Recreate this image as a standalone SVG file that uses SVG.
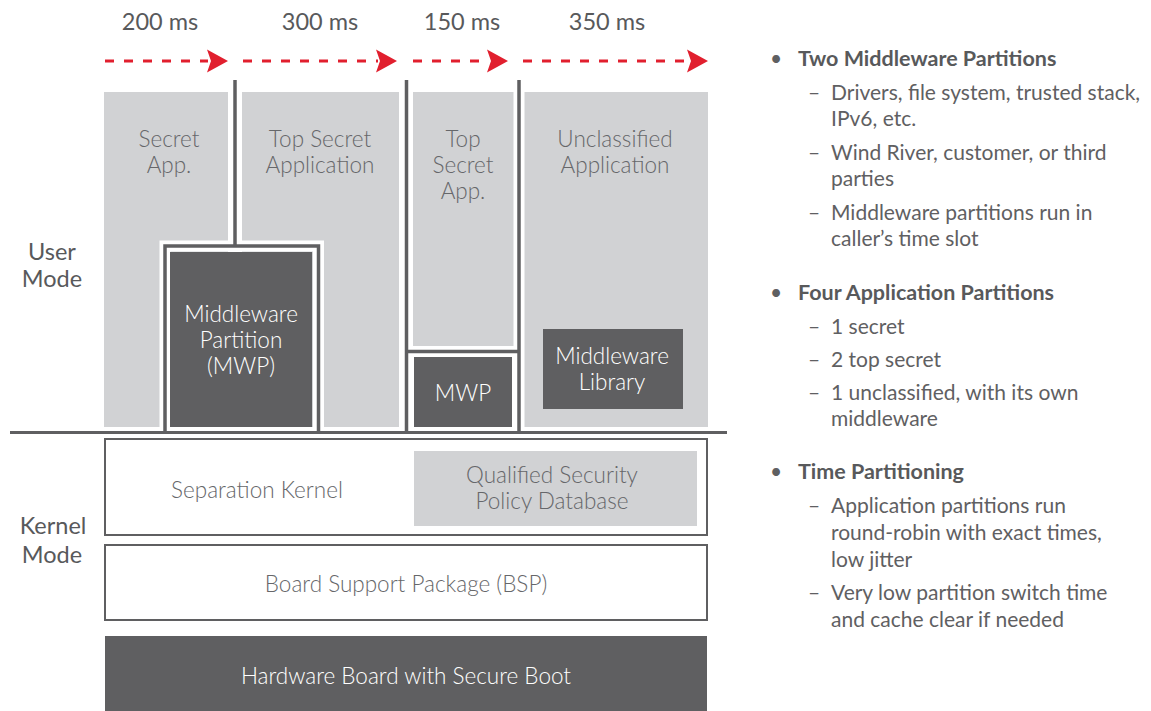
<svg xmlns="http://www.w3.org/2000/svg" width="1151" height="711" viewBox="0 0 1151 711">
<defs>
<style>
.t{font-family:Lato,"Noto Sans","Liberation Sans",sans-serif;font-weight:300;font-size:22.5px;fill:#66676a;text-anchor:middle}
.lbl{font-weight:400;font-size:23.5px;fill:#58595b}
.w{fill:#ffffff}
.g{fill:#d1d2d4}
.d{fill:#5f5f61}
.halo{fill:none;stroke:#ffffff;stroke-width:11}
.rule{fill:none;stroke:#5f5f61;stroke-width:3.5}
.box{fill:#ffffff;stroke:#5f5f61;stroke-width:2}
.dash{fill:none;stroke:#e11f2e;stroke-width:3;stroke-dasharray:9 10}
.ah{fill:#e11f2e}
.r{font-family:Lato,"Noto Sans","Liberation Sans",sans-serif;font-size:21px;fill:#5f6062}
.h{font-weight:700;font-size:21.5px;fill:#58595b}
.b{font-weight:400}
</style>
</defs>
<rect width="1151" height="711" fill="#ffffff"/>

<g id="timeline">
<text class="t lbl" x="160" y="30">200 ms</text>
<text class="t lbl" x="320" y="30">300 ms</text>
<text class="t lbl" x="462" y="30">150 ms</text>
<text class="t lbl" x="607" y="30">350 ms</text>
<line class="dash" x1="105" y1="61" x2="208" y2="61"/>
<polygon class="ah" points="207,49.5 228,61 207,72.5 211,61"/>
<line class="dash" x1="243" y1="61" x2="378" y2="61"/>
<polygon class="ah" points="376,49.5 397,61 376,72.5 380,61"/>
<line class="dash" x1="413" y1="61" x2="489" y2="61"/>
<polygon class="ah" points="487,49.5 508,61 487,72.5 491,61"/>
<line class="dash" x1="523" y1="61" x2="689" y2="61"/>
<polygon class="ah" points="687,49.5 708,61 687,72.5 691,61"/>
</g>

<g id="mode-labels">
<text class="t lbl" x="52" y="260">User</text>
<text class="t lbl" x="52" y="287">Mode</text>
<text class="t lbl" x="53" y="534">Kernel</text>
<text class="t lbl" x="52" y="563">Mode</text>
</g>

<g id="secret-app">
<rect class="g" x="104" y="92" width="124" height="335"/>
<text class="t" x="169" y="147">Secret</text>
<text class="t" x="169" y="173">App.</text>
</g>
<g id="top-secret-application">
<rect class="g" x="242" y="92" width="157" height="335"/>
<text class="t" x="320" y="147">Top Secret</text>
<text class="t" x="320" y="173">Application</text>
</g>
<g id="top-secret-app">
<rect class="g" x="413" y="92" width="103" height="255"/>
<text class="t" x="463" y="147">Top</text>
<text class="t" x="463" y="173">Secret</text>
<text class="t" x="463" y="199">App.</text>
</g>
<g id="unclassified-application">
<rect class="g" x="524" y="92" width="184" height="335"/>
<text class="t" x="615" y="147">Unclassified</text>
<text class="t" x="615" y="173">Application</text>
</g>

<g id="connectors">
<path class="halo" d="M10,432.5 H727"/>
<path class="halo" d="M235,80 V246"/>
<path class="halo" d="M406.5,80 V432"/>
<path class="halo" d="M519,80 V432"/>
<path class="halo" d="M165,432 V246 H318.5 V432"/>
<path class="halo" d="M406.5,351.5 H519"/>
<path class="rule" d="M235,80 V246"/>
<path class="rule" d="M406.5,80 V432"/>
<path class="rule" d="M519,80 V432"/>
<path class="rule" d="M165,432 V246 H318.5 V432"/>
<path class="rule" d="M406.5,351.5 H519"/>
<path class="rule" style="stroke-width:3" d="M10,432.5 H727"/>
</g>

<g id="mwp-1">
<rect class="d" x="170" y="252" width="142" height="175"/>
<text class="t w" x="241" y="322">Middleware</text>
<text class="t w" x="241" y="348">Partition</text>
<text class="t w" x="241" y="374">(MWP)</text>
</g>
<g id="mwp-2">
<rect class="d" x="414" y="357" width="98" height="70"/>
<text class="t w" x="463" y="401">MWP</text>
</g>
<g id="middleware-library">
<rect class="d" x="543" y="329" width="140" height="80"/>
<text class="t w" x="612" y="364">Middleware</text>
<text class="t w" x="612" y="390">Library</text>
</g>

<g id="separation-kernel">
<rect class="box" x="105" y="439" width="602" height="96"/>
<text class="t" x="257" y="498">Separation Kernel</text>
</g>
<g id="qspd">
<rect class="g" x="414" y="451" width="283" height="75"/>
<text class="t" x="552" y="483">Qualified Security</text>
<text class="t" x="552" y="509">Policy Database</text>
</g>
<g id="bsp">
<rect class="box" x="105" y="545" width="602" height="75"/>
<text class="t" x="406" y="592">Board Support Package (BSP)</text>
</g>
<g id="hardware">
<rect class="d" x="105" y="636" width="602" height="75"/>
<text class="t w" x="406" y="684">Hardware Board with Secure Boot</text>
</g>

<g id="notes">
<text class="r b" x="770" y="66">•</text>
<text class="r h" x="798" y="66">Two Middleware Partitions</text>
<text class="r b" x="808" y="100">–</text>
<text class="r b" x="831" y="100">Drivers, file system, trusted stack,</text>
<text class="r b" x="831" y="126">IPv6, etc.</text>
<text class="r b" x="808" y="160">–</text>
<text class="r b" x="831" y="160">Wind River, customer, or third</text>
<text class="r b" x="831" y="186">parties</text>
<text class="r b" x="808" y="220">–</text>
<text class="r b" x="831" y="220">Middleware partitions run in</text>
<text class="r b" x="831" y="246">caller’s time slot</text>

<text class="r b" x="770" y="300">•</text>
<text class="r h" x="798" y="300">Four Application Partitions</text>
<text class="r b" x="808" y="334">–</text>
<text class="r b" x="831" y="334">1 secret</text>
<text class="r b" x="808" y="367">–</text>
<text class="r b" x="831" y="367">2 top secret</text>
<text class="r b" x="808" y="400">–</text>
<text class="r b" x="831" y="400">1 unclassified, with its own</text>
<text class="r b" x="831" y="426">middleware</text>

<text class="r b" x="770" y="479">•</text>
<text class="r h" x="798" y="479">Time Partitioning</text>
<text class="r b" x="808" y="513">–</text>
<text class="r b" x="831" y="513">Application partitions run</text>
<text class="r b" x="831" y="540">round-robin with exact times,</text>
<text class="r b" x="831" y="567">low jitter</text>
<text class="r b" x="808" y="600">–</text>
<text class="r b" x="831" y="600">Very low partition switch time</text>
<text class="r b" x="831" y="627">and cache clear if needed</text>
</g>
</svg>
